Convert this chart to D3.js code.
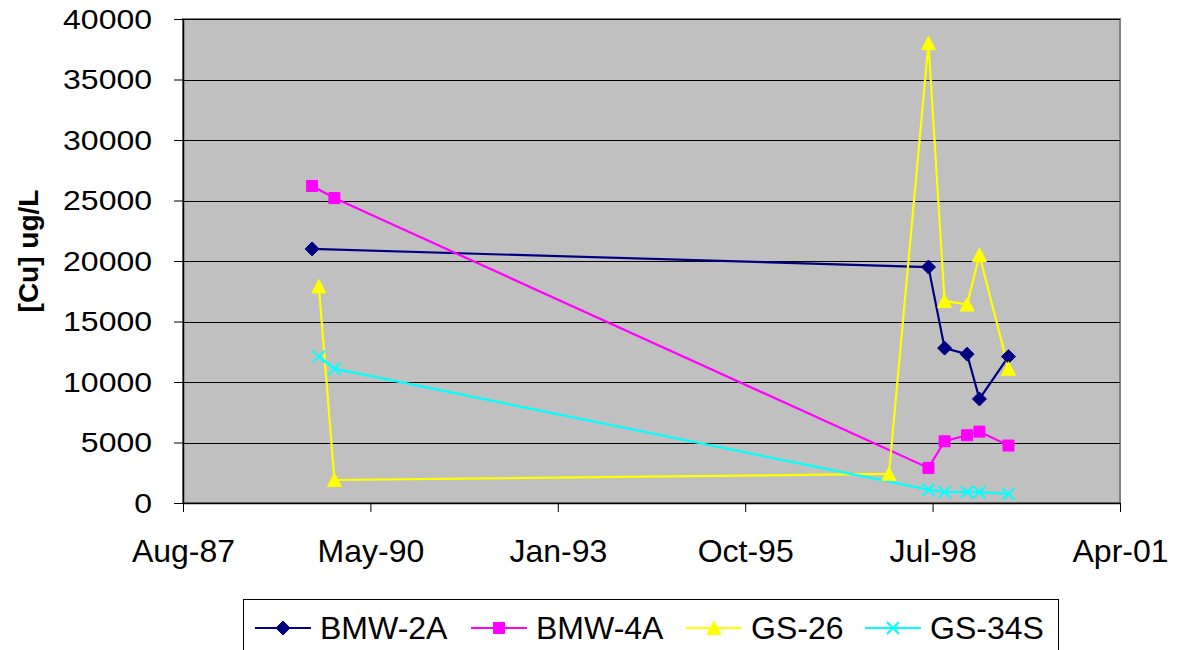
<!DOCTYPE html>
<html>
<head>
<meta charset="utf-8">
<script src="https://cdn.jsdelivr.net/npm/d3@7"></script>
<style>
  body { margin: 0; background: #fff; }
  svg { display: block; font-family: Arial, "Liberation Sans", sans-serif; }
</style>
</head>
<body>
<svg id="chart" width="1186" height="650"></svg>
<script>
// Copper concentration per well over time
const seriesNames = ["BMW-2A", "BMW-4A", "GS-26", "GS-34S"];
const seriesColors = ["#000080", "#FF00FF", "#FFFF00", "#00FFFF"];
const seriesMarkers = ["diamond", "square", "triangle", "cross"];

const bmw2aDates  = ["1989-06-30", "1998-07-02", "1998-09-26", "1999-01-24", "1999-03-31", "1999-09-02"];
const bmw2aValues = [21000, 19500, 12800, 12300, 8600, 12100];

const bmw4aDates  = ["1989-06-30", "1989-10-27", "1998-07-02", "1998-09-26", "1999-01-24", "1999-03-31", "1999-09-02"];
const bmw4aValues = [26200, 25200, 2900, 5100, 5600, 5900, 4750];

const gs26Dates   = ["1989-08-05", "1989-10-27", "1997-12-03", "1998-07-02", "1998-09-26", "1999-01-24", "1999-03-31", "1999-09-02"];
const gs26Values  = [17900, 1900, 2400, 38000, 16700, 16400, 20500, 11100];

const gs34sDates  = ["1989-08-05", "1989-10-27", "1998-07-02", "1998-09-26", "1999-01-24", "1999-03-31", "1999-09-02"];
const gs34sValues = [12100, 11100, 1100, 900, 900, 900, 750];

// Date axis runs in 1000-day steps
const xDomain = ["1987-08-11", "2001-04-19"];
const xTickStepDays = 1000;
const yTicks = [0, 5000, 10000, 15000, 20000, 25000, 30000, 35000, 40000];
const yTitle = "[Cu] ug/L";

const parse = d3.utcParse("%Y-%m-%d");
const seriesDates = [bmw2aDates, bmw4aDates, gs26Dates, gs34sDates];
const seriesValues = [bmw2aValues, bmw4aValues, gs26Values, gs34sValues];
const series = seriesNames.map((name, i) => ({
  name, color: seriesColors[i], marker: seriesMarkers[i],
  points: seriesDates[i].map((d, j) => ({ date: parse(d), value: seriesValues[i][j] }))
}));

const plot = { left: 183, right: 1120, top: 19, bottom: 503 };
const svg = d3.select("#chart");

const x0 = parse(xDomain[0]), x1 = parse(xDomain[1]);
const x = d3.scaleUtc().domain([x0, x1]).range([plot.left, plot.right]);
const y = d3.scaleLinear().domain([0, 40000]).range([plot.bottom, plot.top]);

const xTicks = d3.range(0, 6).map(k => d3.utcDay.offset(x0, k * xTickStepDays));

// Plot area
svg.append("rect")
  .attr("x", plot.left).attr("y", plot.top)
  .attr("width", plot.right - plot.left).attr("height", plot.bottom - plot.top)
  .attr("fill", "#C0C0C0").attr("stroke", "#808080").attr("stroke-width", 2);

// Horizontal gridlines
svg.append("g").selectAll("line")
  .data(yTicks.filter(v => v > 0))
  .join("line")
  .attr("x1", plot.left).attr("x2", plot.right)
  .attr("y1", d => Math.round(y(d)) + 0.5).attr("y2", d => Math.round(y(d)) + 0.5)
  .attr("stroke", "#000").attr("stroke-width", 1);

// Y axis
const yAxis = svg.append("g")
  .attr("transform", `translate(${plot.left},0)`)
  .call(d3.axisLeft(y).tickValues(yTicks).tickSize(9).tickSizeOuter(0).tickPadding(22).tickFormat(d3.format("d")));
yAxis.select(".domain").attr("stroke", "#000").attr("stroke-width", 1.5);
yAxis.selectAll(".tick line").attr("stroke", "#000");
yAxis.selectAll(".tick text")
  .attr("font-size", 32).attr("fill", "#000")
  .attr("font-family", "Arial, 'Liberation Sans', sans-serif")
  .attr("transform", "scale(1,0.88)");

// X axis
const xAxis = svg.append("g")
  .attr("transform", `translate(0,${plot.bottom})`)
  .call(d3.axisBottom(x).tickValues(xTicks).tickSize(9).tickSizeOuter(0).tickFormat(d3.utcFormat("%b-%y")));
xAxis.select(".domain").attr("stroke", "#000").attr("stroke-width", 1.5);
xAxis.selectAll(".tick line").attr("stroke", "#000");
xAxis.selectAll(".tick text")
  .attr("font-size", 32).attr("fill", "#000")
  .attr("font-family", "Arial, 'Liberation Sans', sans-serif")
  .attr("y", 59).attr("dy", 0);

// Y axis title
svg.append("text")
  .attr("transform", "translate(38,251) rotate(-90)")
  .attr("text-anchor", "middle")
  .attr("font-size", 28).attr("font-weight", "bold")
  .text(yTitle);

// Marker shapes
function markerPath(type) {
  switch (type) {
    case "diamond": return "M0,-7L7,0L0,7L-7,0Z";
    case "square": return "M-5.5,-5.5H5.5V5.5H-5.5Z";
    case "triangle": return "M0,-7L7,6.5L-7,6.5Z";
    case "cross": return "M-6,-6L6,6M6,-6L-6,6";
  }
}
function drawMarker(sel, s) {
  const p = sel.append("path").attr("d", markerPath(s.marker));
  if (s.marker === "cross") p.attr("fill", "none").attr("stroke", s.color).attr("stroke-width", 2);
  else p.attr("fill", s.color).attr("stroke", s.color).attr("stroke-width", 1);
}

const line = d3.line().x(d => x(d.date)).y(d => y(d.value));

// Lines first, then markers on top
const lines = svg.append("g");
series.forEach(s => {
  lines.append("path").datum(s.points)
    .attr("d", line).attr("fill", "none")
    .attr("stroke", s.color).attr("stroke-width", 2.2);
});
const marks = svg.append("g");
series.forEach(s => {
  s.points.forEach(p => {
    const g = marks.append("g").attr("transform", `translate(${x(p.date)},${y(p.value)})`);
    drawMarker(g, s);
  });
});

// Legend
const legend = svg.append("g");
legend.append("rect")
  .attr("x", 243.5).attr("y", 599.5).attr("width", 815).attr("height", 70)
  .attr("fill", "#fff").attr("stroke", "#000").attr("stroke-width", 1);
const legendX = [255, 471, 686, 865];
series.forEach((s, i) => {
  const g = legend.append("g").attr("transform", `translate(${legendX[i]},628)`);
  g.append("line").attr("x1", 0).attr("x2", 56).attr("y1", 0).attr("y2", 0)
    .attr("stroke", s.color).attr("stroke-width", 2.2);
  const m = g.append("g").attr("transform", "translate(28,0)");
  drawMarker(m, s);
  g.append("text").attr("x", 65).attr("y", 11)
    .attr("font-size", 32).attr("fill", "#000").text(s.name);
});
</script>
</body>
</html>
